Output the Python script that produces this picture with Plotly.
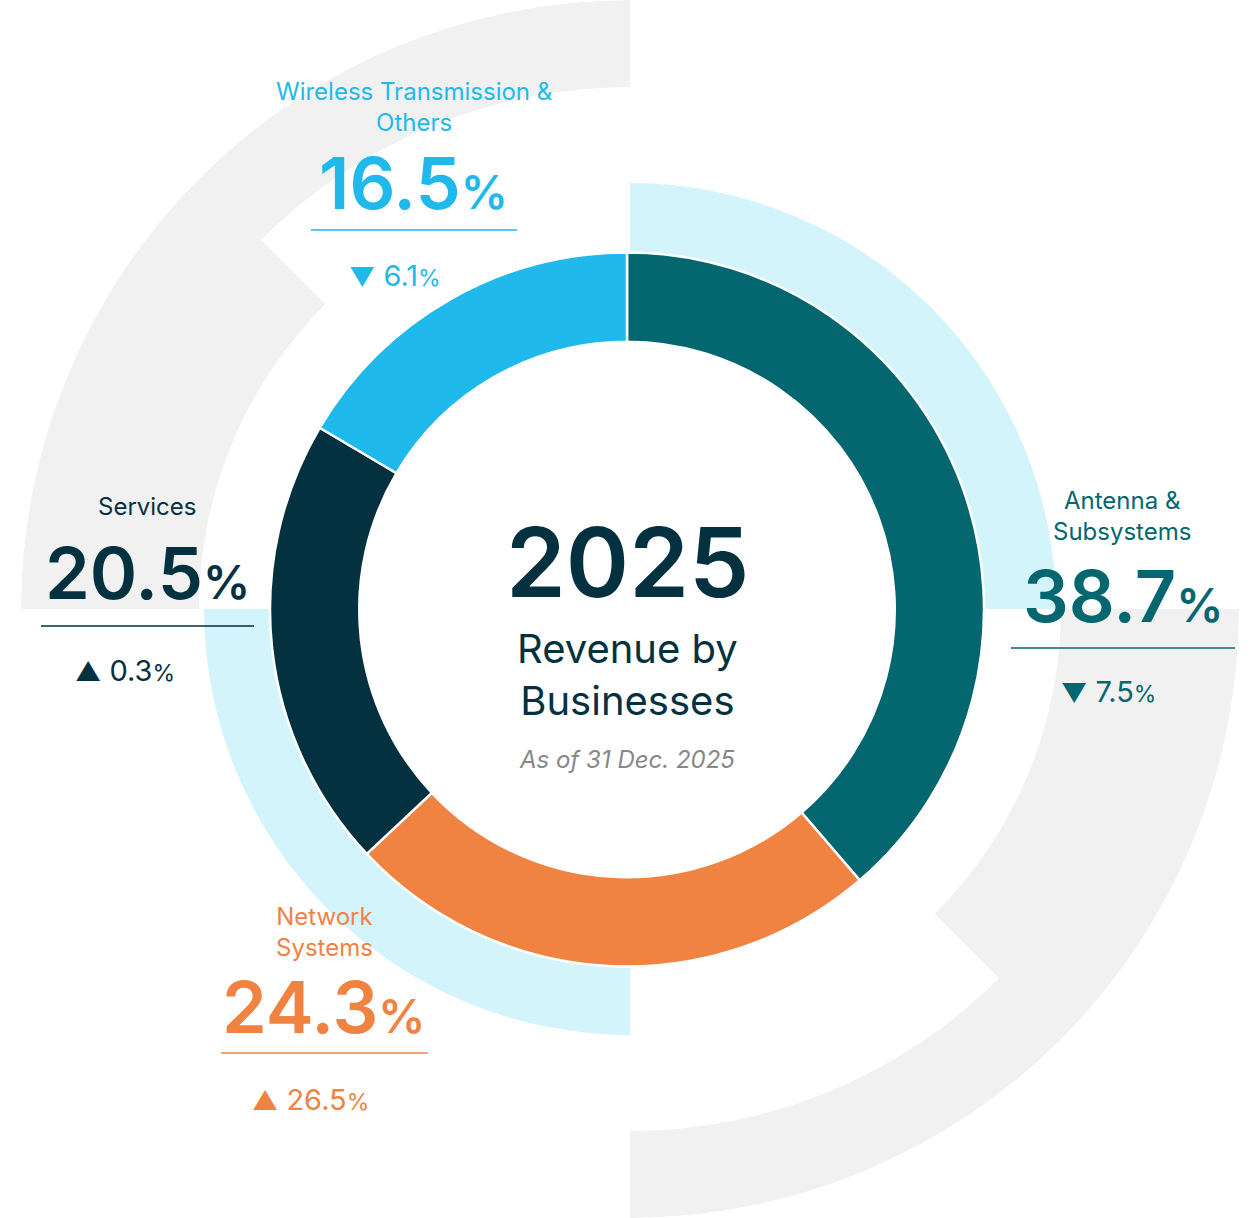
import plotly.graph_objects as go

W, H = 1250, 1218

# ---- data ----
segments = ["Antenna &<br>Subsystems", "Network<br>Systems", "Services",
            "Wireless Transmission &<br>Others"]
shares = [38.7, 24.3, 20.5, 16.5]
changes = [-7.5, 26.5, 0.3, -6.1]
colors = ["#04666F", "#F08342", "#03313F", "#1FB9EC"]
center_year = "2025"
center_title = "Revenue by<br>Businesses"
center_note = "As of 31 Dec. 2025"

# ---- decoration (background arcs: theta start/end in deg clockwise from top, inner/outer radius px) ----
bg_theta0 = [315, 270, 90, 135, 0, 180]
bg_theta1 = [360, 315, 135, 180, 90, 270]
bg_inner = [522, 431, 431, 522, 300, 300]
bg_outer = [609, 609, 609, 609, 426, 426]
bg_colors = ["#F1F1F1"] * 4 + ["#D4F4FC"] * 2

FONT = "Inter"


def px(x):
    return x / W


def py(y):
    return 1 - y / H


fig = go.Figure()
fig.add_trace(go.Barpolar(
    theta=[(a + b) / 2 for a, b in zip(bg_theta0, bg_theta1)],
    width=[b - a for a, b in zip(bg_theta0, bg_theta1)],
    base=bg_inner,
    r=[o - i for o, i in zip(bg_outer, bg_inner)],
    marker=dict(color=bg_colors, line=dict(width=0)),
    hoverinfo="skip", showlegend=False,
))

# donut centre (627, 609.5), radius 357
cx, cy, R = 627, 609.5, 357
fig.add_trace(go.Pie(
    values=shares, labels=[s.replace("<br>", " ") for s in segments],
    sort=False, direction="clockwise", rotation=0, hole=0.75,
    marker=dict(colors=colors, line=dict(color="white", width=2.5)),
    textinfo="none", hoverinfo="label+percent", showlegend=False,
    domain=dict(x=[px(cx - R), px(cx + R)], y=[py(cy + R), py(cy - R)]),
))

# label layout per segment: name centre x, name y (block centre), value x, value y,
# line x0, x1, line y, change x, change y
label_pos = [
    (1122, 516, 1123, 595, 1011, 1235, 648, 1108, 691),
    (324, 932, 324, 1006, 221, 428, 1053, 310, 1099),
    (147, 506, 147, 572, 41, 254, 626, 125, 670),
    (414, 107, 413, 183, 311, 517, 230, 395, 275),
]

ann = []
shapes = []
for name, share, chg, col, p in zip(segments, shares, changes, colors, label_pos):
    nx, ny, vx, vy, lx0, lx1, ly, chx, chy = p
    ann.append(dict(x=px(nx), y=py(ny), text=name, showarrow=False,
                    xref="paper", yref="paper", xanchor="center", yanchor="middle",
                    font=dict(family=FONT, size=24, color=col)))
    ann.append(dict(x=px(vx), y=py(vy),
                    text=f"{share}<span style='font-size:47px'>%</span>",
                    showarrow=False, xref="paper", yref="paper",
                    xanchor="center", yanchor="middle",
                    font=dict(family=FONT, size=72, color=col, weight=600)))
    arrow = "▲" if chg > 0 else "▼"
    ann.append(dict(x=px(chx), y=py(chy),
                    text=f"<span style='font-size:26px'>{arrow}</span> {abs(chg)}<span style='font-size:23px'>%</span>",
                    showarrow=False, xref="paper", yref="paper",
                    xanchor="center", yanchor="middle",
                    font=dict(family=FONT, size=29, color=col)))
    shapes.append(dict(type="line", xref="paper", yref="paper",
                       x0=px(lx0), x1=px(lx1), y0=py(ly), y1=py(ly),
                       line=dict(color=col, width=1.5)))

ann.append(dict(x=px(627), y=py(562), text=center_year, showarrow=False,
                xref="paper", yref="paper", xanchor="center", yanchor="middle",
                font=dict(family=FONT, size=96, color="#03313F", weight=600)))
ann.append(dict(x=px(627), y=py(674), text=center_title, showarrow=False,
                xref="paper", yref="paper", xanchor="center", yanchor="middle",
                font=dict(family=FONT, size=40, color="#03313F")))
ann.append(dict(x=px(627), y=py(759), text=center_note, showarrow=False,
                xref="paper", yref="paper", xanchor="center", yanchor="middle",
                font=dict(family=FONT, size=24, color="#888888", style="italic")))

fig.update_layout(
    width=W, height=H, margin=dict(l=0, r=0, t=0, b=0),
    paper_bgcolor="white", plot_bgcolor="white",
    polar=dict(
        domain=dict(x=[px(21), px(1239)], y=[0, 1]),
        bgcolor="rgba(0,0,0,0)", hole=0,
        radialaxis=dict(visible=False, range=[0, 609]),
        angularaxis=dict(visible=False, rotation=90, direction="clockwise"),
    ),
    annotations=ann, shapes=shapes,
)

fig.write_html("out.html", config={"displayModeBar": False},
               post_script="document.body.style.margin='0px';")
